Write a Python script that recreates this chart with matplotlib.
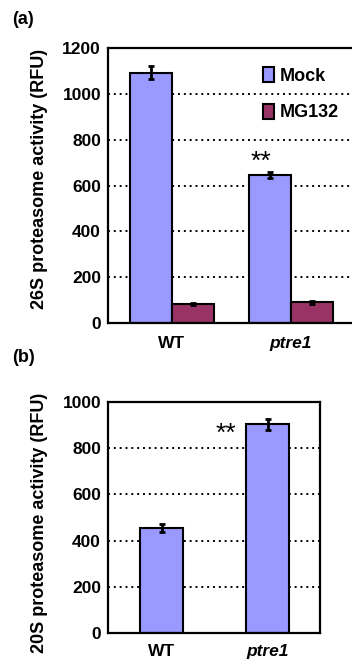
import matplotlib.pyplot as plt
import numpy as np

plt.rcParams['font.family'] = ['Liberation Sans', 'DejaVu Sans']
plt.rcParams['font.weight'] = 'bold'

genotypes = ["WT", "ptre1"]

# (a) 26S proteasome activity
mock_26s = [1092, 646]
mock_26s_err = [28, 12]
mg132_26s = [83, 90]
mg132_26s_err = [3, 5]

# (b) 20S proteasome activity
act_20s = [456, 902]
act_20s_err = [18, 25]

mock_color = "#9999FF"
mg_color = "#993366"

W, H = 352, 664
fig = plt.figure(figsize=(W / 100, H / 100), dpi=100)
ekw = dict(elinewidth=2, capsize=2.5, capthick=2)


def style_axes(ax, ymax, xpad):
    ax.set_axisbelow(True)
    ax.yaxis.grid(True, color="black", linestyle=(0, (1, 2)), linewidth=1.4)
    for s in ax.spines.values():
        s.set_linewidth(1.6)
    ax.tick_params(axis="y", length=0, labelsize=12.5, pad=5)
    ax.tick_params(axis="x", length=0, labelsize=12.5, pad=xpad)
    ax.set_ylim(0, ymax)
    for lab in ax.get_yticklabels():
        lab.set_fontweight("bold")


# ---- panel (a)
ax1 = fig.add_axes([108 / W, 1 - 323 / H, (355 - 108) / W, 275 / H])
x = np.arange(len(genotypes))
bw = 0.35
ax1.bar(x - bw / 2, mock_26s, bw, color=mock_color, edgecolor="black", linewidth=1.5,
        yerr=mock_26s_err, error_kw=ekw, label="Mock")
ax1.bar(x + bw / 2, mg132_26s, bw, color=mg_color, edgecolor="black", linewidth=1.5,
        yerr=mg132_26s_err, error_kw=ekw, label="MG132")
ax1.set_xlim(-0.538, 1.538)
ax1.set_yticks(range(0, 1201, 200))
style_axes(ax1, 1200, 9)
ax1.set_xticks(x)
ax1.set_xticklabels(genotypes, fontweight="bold")
ax1.get_xticklabels()[1].set_fontstyle("italic")
ax1.set_ylabel("26S proteasome activity (RFU)", fontsize=13, fontweight="bold")
ax1.yaxis.set_label_coords(-0.243, 0.525)
ax1.text(x[1] - bw / 2 - 0.08, 705, "**", ha="center", va="center", fontsize=19,
         fontweight="normal")
ax1.legend(loc="upper left", bbox_to_anchor=(0.584, 0.97), frameon=False, fontsize=13,
           handlelength=0.6, handleheight=0.9, handletextpad=0.3, labelspacing=1.05,
           borderaxespad=0.2)

# ---- panel (b)
ax2 = fig.add_axes([108 / W, 1 - 633.3 / H, 212 / W, 231.6 / H])
ax2.bar(x, act_20s, 0.40, color=mock_color, edgecolor="black", linewidth=1.5,
        yerr=act_20s_err, error_kw=ekw)
ax2.set_xlim(-0.505, 1.495)
ax2.set_yticks(range(0, 1001, 200))
style_axes(ax2, 1000, 8)
ax2.set_xticks(x)
ax2.set_xticklabels(genotypes, fontweight="bold")
ax2.get_xticklabels()[1].set_fontstyle("italic")
ax2.set_ylabel("20S proteasome activity (RFU)", fontsize=13, fontweight="bold")
ax2.yaxis.set_label_coords(-0.283, 0.478)
ax2.text(0.608, 860, "**", ha="center", va="center", fontsize=19, fontweight="normal")

fig.text(12 / W, 1 - 20 / H, "(a)", fontsize=13, fontweight="bold", va="center")
fig.text(12 / W, 1 - 357 / H, "(b)", fontsize=13, fontweight="bold", va="center")

fig.savefig("out.png", dpi=100)
